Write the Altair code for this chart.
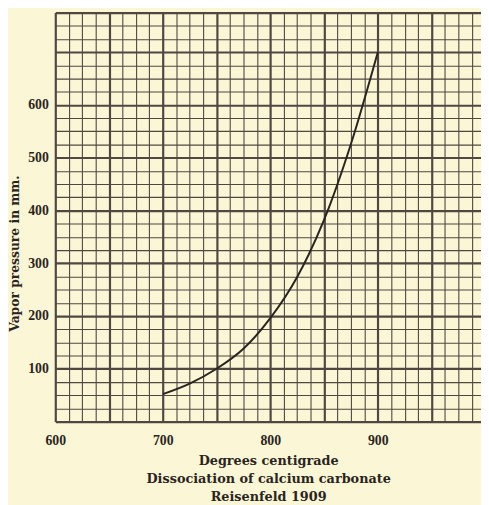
import altair as alt
import pandas as pd

# Curve (degrees C, vapor pressure mm)
temps = [700, 725, 750, 775, 800, 825, 850, 875, 900]
pressure = [52, 72, 100, 138, 196, 274, 382, 526, 700]

x_grid = [600 + 12.5 * i for i in range(32)]      # 600 .. 987.5
y_grid = [25 * i for i in range(32)]              # 0 .. 775
x_labels = [600, 700, 800, 900]
y_labels = [100, 200, 300, 400, 500, 600]

df = pd.DataFrame({"t": temps, "p": pressure})

BG = "#fbf6d6"
GRID = "#4f4740"
INK = "#2a2420"
SERIF = "DejaVu Serif"
NUMF = "Liberation Serif"

x_lab_expr = "indexof([" + ",".join(str(v) for v in x_labels) + "], datum.value) >= 0 ? datum.label : ''"
y_lab_expr = "indexof([" + ",".join(str(v) for v in y_labels) + "], datum.value) >= 0 ? datum.label : ''"

chart = alt.Chart(df).mark_line(color=INK, strokeWidth=2, interpolate="monotone").encode(
    x=alt.X("t:Q",
            scale=alt.Scale(domain=[600, 996], nice=False, zero=False),
            axis=alt.Axis(values=x_grid, grid=True, ticks=False, domain=False,
                          gridColor=GRID,
                          gridWidth=alt.condition("datum.value % 50 == 0", alt.value(2.2), alt.value(1.1)),
                          gridOpacity=1,
                          labelExpr=x_lab_expr, labelFont=NUMF, labelFontWeight="bold",
                          labelFontSize=14, labelColor=INK, labelPadding=12,
                          labelFlush=False, labelOverlap=False,
                          format="d",
                          title=["Degrees centigrade", "Dissociation of calcium carbonate", "Reisenfeld 1909"],
                          titleFont=SERIF, titleFontWeight="bold", titleFontSize=13,
                          titleColor=INK, titleLineHeight=18, titleBaseline="top",
                          titleY=34)),
    y=alt.Y("p:Q",
            scale=alt.Scale(domain=[0, 775], nice=False, zero=True),
            axis=alt.Axis(values=y_grid, grid=True, ticks=False, domain=False,
                          gridColor=GRID,
                          gridWidth=alt.condition("datum.value % 100 == 0 || datum.value == 775", alt.value(2.2), alt.value(1.1)),
                          gridOpacity=1,
                          labelExpr=y_lab_expr, labelFont=NUMF, labelFontWeight="bold",
                          labelFontSize=14, labelColor=INK, labelPadding=7,
                          labelFlush=False, labelOverlap=False,
                          format="d",
                          title="Vapor pressure in mm.",
                          titleFont=SERIF, titleFontWeight="bold", titleFontSize=12.5,
                          titleColor=INK, titleAngle=270, titleAlign="center",
                          titleBaseline="middle", titleX=-41, titleY=244)),
).properties(
    width=432, height=415,
    autosize=alt.AutoSizeParams(type="none"),
    padding={"left": 48, "top": 1, "right": 0, "bottom": 82},
    background=BG,
).configure_view(strokeWidth=0)

chart.save("out.html", embed_options={"renderer": "svg", "actions": False})
